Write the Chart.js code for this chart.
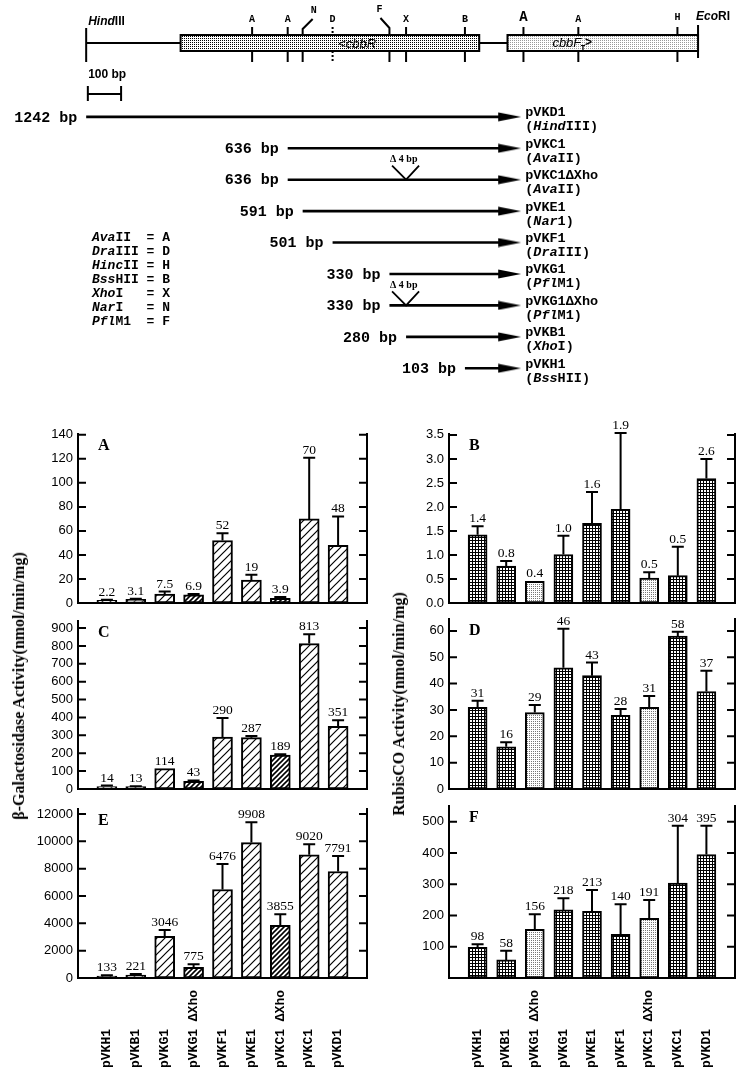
<!DOCTYPE html>
<html>
<head>
<meta charset="utf-8">
<script src="https://cdn.jsdelivr.net/npm/chart.js@4.4.0/dist/chart.umd.min.js"></script>
<style>
  body { margin: 0; background: #fff; }
  #page { position: relative; width: 749px; height: 1082px; overflow: hidden; background: #fff; }
  canvas { position: absolute; }
  .ytitle { position: absolute; font: bold 16px "Liberation Serif", "Times New Roman", serif; white-space: nowrap;
            transform: translate(-50%, -50%) rotate(-90deg); color: #000; }
</style>
</head>
<body>
<div id="page">
  <canvas id="map" width="749" height="400" style="left:0;top:0"></canvas>
  <canvas id="panelA"></canvas>
  <canvas id="panelC"></canvas>
  <canvas id="panelE"></canvas>
  <canvas id="panelB"></canvas>
  <canvas id="panelD"></canvas>
  <canvas id="panelF"></canvas>
  <div class="ytitle" style="left:19px;top:686px">β-Galactosidase Activity(nmol/min/mg)</div>
  <div class="ytitle" style="left:399px;top:704px">RubisCO Activity(nmol/min/mg)</div>
</div>
<script>
// --- promoter map (positions in bp counted from the HindIII site) ---
const promoterEnd = 1242;
const constructNames = ['pVKD1', 'pVKC1', 'pVKC1ΔXho', 'pVKE1', 'pVKF1', 'pVKG1', 'pVKG1ΔXho', 'pVKB1', 'pVKH1'];
const constructEnzymes = ['(_Hind_III)', '(_Ava_II)', '(_Ava_II)', '(_Nar_1)', '(_Dra_III)', '(_Pfl_M1)', '(_Pfl_M1)', '(_Xho_I)', '(_Bss_HII)'];
const constructLengths = [1242, 636, 636, 591, 501, 330, 330, 280, 103];
const constructDeletion = [false, false, true, false, false, false, true, false, false];
const siteLetters = ['A', 'A', 'N', 'D', 'F', 'X', 'B', 'A', 'A', 'H'];
const sitePositions = [499, 606, 651, 741, 912, 962, 1139, 1315, 1480, 1778];
const xhoSite = 962;
const cbbRBox = [284, 1182];
const cbbFBox = [1267, 1840];
const ecoRIPos = 1840;
const enzymeKey = ['_Ava_II  = A', '_Dra_III = D', '_Hinc_II = H', '_Bss_HII = B', '_Xho_I   = X', '_Nar_I   = N', '_Pfl_M1  = F'];

// --- bar panels ---
const leftCats = ['pVKH1', 'pVKB1', 'pVKG1', 'pVKG1 ΔXho', 'pVKF1', 'pVKE1', 'pVKC1 ΔXho', 'pVKC1', 'pVKD1'];
const rightCats = ['pVKH1', 'pVKB1', 'pVKG1 ΔXho', 'pVKG1', 'pVKE1', 'pVKF1', 'pVKC1 ΔXho', 'pVKC1', 'pVKD1'];

const aValues = [2.2, 3.1, 7.5, 6.9, 52, 19, 3.9, 70, 48];
const aErrTop = [2.7, 3.6, 9.5, 7.4, 58, 23.5, 5, 121, 72];
const aTicks = [0, 20, 40, 60, 80, 100, 120, 140];
const cValues = [14, 13, 114, 43, 290, 287, 189, 813, 351];
const cErrTop = [19, 16, 114, 48, 397, 296, 195, 866, 385];
const cTicks = [0, 100, 200, 300, 400, 500, 600, 700, 800, 900];
const eValues = [133, 221, 3046, 775, 6476, 9908, 3855, 9020, 7791];
const eErrTop = [200, 290, 3510, 1000, 8340, 11390, 4660, 9780, 8930];
const eTicks = [0, 2000, 4000, 6000, 8000, 10000, 12000];

const bValues = [1.42, 0.77, 0.45, 1.01, 1.66, 1.95, 0.52, 0.57, 2.59];
const bLabels = ['1.4', '0.8', '0.4', '1.0', '1.6', '1.9', '0.5', '0.5', '2.6'];
const bErrTop = [1.6, 0.875, 0.45, 1.4, 2.31, 3.54, 0.64, 1.17, 3.0];
const bTicks = [0, 0.5, 1.0, 1.5, 2.0, 2.5, 3.0, 3.5];
const dValues = [31, 16, 29, 46, 43, 28, 31, 58, 37];
const dErrTop = [33.5, 17.7, 31.9, 60.8, 48, 30.4, 35.3, 59.7, 44.9];
const dTicks = [0, 10, 20, 30, 40, 50, 60];
const fValues = [98, 58, 156, 218, 213, 140, 191, 304, 395];
const fErrTop = [108, 87, 204, 255, 282, 236, 250, 487, 487];
const fTicks = [100, 200, 300, 400, 500];

// fill patterns
function makePattern(size, draw) {
    const c = document.createElement('canvas');
    c.width = size; c.height = size;
    const g = c.getContext('2d');
    g.fillStyle = '#fff';
    g.fillRect(0, 0, size, size);
    draw(g, size);
    return document.createElement('canvas').getContext('2d').createPattern(c, 'repeat');
}
function hatch(size, lw) {
    return makePattern(size, (g, s) => {
        g.strokeStyle = '#000'; g.lineWidth = lw;
        g.beginPath();
        g.moveTo(0, s); g.lineTo(s, 0);
        g.moveTo(-2, 2); g.lineTo(2, -2);
        g.moveTo(s - 2, s + 2); g.lineTo(s + 2, s - 2);
        g.stroke();
    });
}
const hatchPattern = hatch(8, 1.2);
const denseHatch = hatch(5, 1.6);
const darkGrid = makePattern(3, (g) => { g.fillStyle = '#000'; g.fillRect(0, 0, 3, 1); g.fillRect(0, 0, 1, 3); });
const lightDots = makePattern(2, (g) => { g.fillStyle = '#777'; g.fillRect(0, 0, 1, 1); });
const cbbRFill = makePattern(2, (g) => { g.fillStyle = '#000'; g.fillRect(0, 0, 1, 1); });
const cbbFFill = makePattern(2, (g) => { g.fillStyle = '#999'; g.fillRect(0, 0, 1, 1); });

// text with _italic_ parts
function drawStyled(ctx, text, x, y, size, family, align) {
    const parts = text.split('_');
    const fonts = parts.map((p, k) => (k % 2 ? 'italic ' : '') + 'bold ' + size + 'px ' + family);
    const widths = parts.map((p, k) => { ctx.font = fonts[k]; return ctx.measureText(p).width; });
    const total = widths.reduce((s, w) => s + w, 0);
    let cx = align === 'right' ? x - total : align === 'center' ? x - total / 2 : x;
    ctx.textAlign = 'left';
    parts.forEach((p, k) => { ctx.font = fonts[k]; ctx.fillText(p, cx, y); cx += widths[k]; });
}

const mono = '"Liberation Mono", "Courier New", monospace';
const sans = '"Liberation Sans", Arial, sans-serif';
const serif = '"Liberation Serif", "Times New Roman", serif';

// arrowhead used as the point style at the end of each construct
const arrowHead = document.createElement('canvas');
arrowHead.width = 44; arrowHead.height = 10;
(function () {
    const g = arrowHead.getContext('2d');
    g.fillStyle = '#000';
    g.beginPath(); g.moveTo(21, 0.5); g.lineTo(44, 5); g.lineTo(21, 9.5); g.closePath(); g.fill();
})();

const mapDecor = {
    id: 'mapDecor',
    afterDatasetsDraw(chart) {
        const {ctx} = chart;
        const xs = v => chart.scales.x.getPixelForValue(v);
        const ys = v => chart.scales.y.getPixelForValue(v);
        ctx.save();
        ctx.fillStyle = '#000';
        ctx.strokeStyle = '#000';
        ctx.textBaseline = 'middle';

        // backbone line and boxes
        ctx.lineWidth = 2;
        ctx.beginPath();
        ctx.moveTo(xs(0), 43); ctx.lineTo(xs(cbbRBox[0]), 43);
        ctx.moveTo(xs(cbbRBox[1]), 43); ctx.lineTo(xs(cbbFBox[0]), 43);
        ctx.moveTo(xs(0), 28); ctx.lineTo(xs(0), 62);
        ctx.moveTo(xs(ecoRIPos), 25); ctx.lineTo(xs(ecoRIPos), 58);
        ctx.stroke();
        [[cbbRBox, cbbRFill], [cbbFBox, cbbFFill]].forEach(([b, fill]) => {
            ctx.fillStyle = fill;
            ctx.fillRect(xs(b[0]), 35, xs(b[1]) - xs(b[0]), 16);
            ctx.strokeRect(xs(b[0]), 35, xs(b[1]) - xs(b[0]), 16);
        });
        ctx.fillStyle = '#000';

        // restriction sites
        sitePositions.forEach((p, i) => {
            const x = xs(p);
            const L = siteLetters[i];
            ctx.lineWidth = 2;
            ctx.setLineDash(L === 'D' ? [2, 2] : []);
            ctx.beginPath();
            if (L === 'N') {
                ctx.moveTo(x, 35); ctx.lineTo(x, 29); ctx.lineTo(x + 10, 19);
            } else if (L === 'F') {
                ctx.moveTo(x, 35); ctx.lineTo(x, 28); ctx.lineTo(x - 9, 18);
            } else {
                ctx.moveTo(x, 27); ctx.lineTo(x, 35);
            }
            ctx.moveTo(x, 51); ctx.lineTo(x, 62);
            ctx.stroke();
            ctx.setLineDash([]);
            ctx.textAlign = 'center';
            let lx = x, ly = 19, size = 10;
            if (L === 'N') { lx = x + 11; ly = 10; }
            if (L === 'F') { lx = x - 10; ly = 9; }
            if (p === 1315) { size = 14; ly = 17; }
            if (L === 'H') ly = 17;
            ctx.font = 'bold ' + size + 'px ' + mono;
            ctx.fillText(L, lx, ly);
        });

        drawStyled(ctx, '_Hind_III', xs(0) + 2, 22, 12, sans, 'left');
        drawStyled(ctx, '_Eco_RI', xs(ecoRIPos) - 2, 17, 12, sans, 'left');
        ctx.font = 'italic 13px ' + sans;
        ctx.textAlign = 'center';
        ctx.fillText('<cbbR', xs(815), 44);
        ctx.textAlign = 'left';
        ctx.fillText('cbbF', xs(1402), 43);
        ctx.font = 'bold 9px ' + mono;
        ctx.fillText('I', xs(1486), 49);
        ctx.font = 'bold 12px ' + sans;
        ctx.fillText('>', xs(1500), 43);

        // 100 bp scale bar
        ctx.font = 'bold 12px ' + sans;
        ctx.fillText('100 bp', xs(0) + 2, 75);
        ctx.lineWidth = 2;
        ctx.beginPath();
        ctx.moveTo(xs(5), 94); ctx.lineTo(xs(105), 94);
        ctx.moveTo(xs(5), 86); ctx.lineTo(xs(5), 101);
        ctx.moveTo(xs(105), 86); ctx.lineTo(xs(105), 101);
        ctx.stroke();

        // construct labels
        constructLengths.forEach((len, i) => {
            const y = ys(i);
            drawStyled(ctx, len + ' bp', xs(promoterEnd - len) - 9, y + 1, 15, mono, 'right');
            const tx = xs(promoterEnd) + 26;
            drawStyled(ctx, constructNames[i], tx, y - 4, 13.5, mono, 'left');
            drawStyled(ctx, constructEnzymes[i], tx, y + 10, 13.5, mono, 'left');
            if (constructDeletion[i]) {
                const x = xs(xhoSite);
                ctx.lineWidth = 1.8;
                ctx.beginPath();
                ctx.moveTo(x - 14, y - 14); ctx.lineTo(x, y);
                ctx.lineTo(x + 13, y - 14);
                ctx.stroke();
                ctx.font = 'bold 10px ' + serif;
                ctx.textAlign = 'left';
                ctx.fillText('Δ 4 bp', x - 16, y - 20);
            }
        });

        // enzyme key
        enzymeKey.forEach((t, i) => drawStyled(ctx, t, 92, 238 + 14 * i, 13, mono, 'left'));
        ctx.restore();
    }
};

new Chart(document.getElementById('map'), {
    type: 'line',
    data: {
        datasets: constructLengths.map((len, i) => ({
            data: [{x: promoterEnd - len, y: i}, {x: promoterEnd, y: i}],
            borderColor: '#000',
            borderWidth: 2.6,
            pointRadius: c => c.dataIndex === 1 ? 1 : 0,
            pointStyle: c => c.dataIndex === 1 ? arrowHead : 'circle',
            pointBackgroundColor: '#000'
        }))
    },
    options: {
        responsive: false,
        animation: false,
        devicePixelRatio: 1,
        layout: {padding: 0},
        plugins: {legend: {display: false}, tooltip: {enabled: false}},
        scales: {
            x: {type: 'linear', display: false, min: -239.3, max: 1973.4},
            y: {type: 'linear', display: false, reverse: true, min: -3.508, max: 8.8}
        }
    },
    plugins: [mapDecor]
});

// --- bar panels ---
const panelDecor = {
    id: 'panelDecor',
    afterDatasetsDraw(chart, args, opts) {
        const {ctx, chartArea: a} = chart;
        const y = chart.scales.y;
        const meta = chart.getDatasetMeta(0);
        ctx.save();
        ctx.strokeStyle = '#000';
        ctx.fillStyle = '#000';
        ctx.lineWidth = 2;
        ctx.beginPath();
        ctx.moveTo(a.left, a.top); ctx.lineTo(a.left, a.bottom);
        ctx.lineTo(a.right, a.bottom); ctx.lineTo(a.right, a.top);
        y.ticks.forEach(t => {
            const py = y.getPixelForValue(t.value);
            ctx.moveTo(a.left, py); ctx.lineTo(a.left + 8, py);
            ctx.moveTo(a.right, py); ctx.lineTo(a.right - 8, py);
        });
        ctx.stroke();

        ctx.font = '13.5px ' + serif;
        ctx.textAlign = 'center';
        ctx.textBaseline = 'alphabetic';
        opts.errTop.forEach((e, i) => {
            const bar = meta.data[i + 1];
            const top = y.getPixelForValue(e);
            if (top < bar.y - 0.5) {
                ctx.beginPath();
                ctx.moveTo(bar.x, bar.y); ctx.lineTo(bar.x, top);
                ctx.moveTo(bar.x - 6, top); ctx.lineTo(bar.x + 6, top);
                ctx.stroke();
            }
            ctx.fillText(opts.labels[i], bar.x, Math.min(top, bar.y) - 4);
        });

        ctx.font = 'bold 16px ' + serif;
        ctx.textAlign = 'left';
        ctx.textBaseline = 'middle';
        ctx.fillText(opts.letter, a.left + 20, a.top + 13);
        ctx.restore();
    }
};

function makePanel(p) {
    const canvas = document.getElementById(p.id);
    const canvasLeft = p.axisLeft - 70;
    const canvasTop = p.top - 25;
    const xh = p.showLabels ? 100 : 8;
    canvas.width = p.axisRight + 8 - canvasLeft;
    canvas.height = p.bottom - canvasTop + xh;
    canvas.style.left = canvasLeft + 'px';
    canvas.style.top = canvasTop + 'px';

    const delta = p.cats.map(c => c.includes('ΔXho'));
    const fills = delta.map(d => p.side === 'left' ? (d ? denseHatch : hatchPattern) : (d ? lightDots : darkGrid));
    const noPad = s => { s.paddingLeft = 0; s.paddingRight = 0; s.paddingTop = 0; s.paddingBottom = 0; };

    new Chart(canvas, {
        type: 'bar',
        data: {
            labels: ['', ...p.cats.map(c => c.padEnd(10, ' ')), ''],
            datasets: [{
                data: [null, ...p.values, null],
                backgroundColor: [null, ...fills, null],
                borderColor: '#000',
                borderWidth: 2,
                borderSkipped: false,
                barThickness: p.side === 'left' ? 20 : 19
            }]
        },
        options: {
            responsive: false,
            animation: false,
            devicePixelRatio: 1,
            layout: {padding: {top: 25, right: 8, left: 0, bottom: 0}},
            plugins: {
                legend: {display: false},
                tooltip: {enabled: false},
                panelDecor: {errTop: p.errTop, labels: p.labels, letter: p.letter}
            },
            scales: {
                x: {
                    type: 'category',
                    offset: false,
                    grid: {display: false, drawTicks: false},
                    border: {display: false},
                    ticks: {
                        display: !!p.showLabels,
                        autoSkip: false,
                        minRotation: 90,
                        maxRotation: 90,
                        padding: 12,
                        color: '#000',
                        font: {family: mono, size: 13, weight: 'bold'}
                    },
                    afterFit: s => { s.height = xh; noPad(s); }
                },
                y: {
                    min: 0,
                    max: p.max,
                    grid: {display: false, drawTicks: false},
                    border: {display: false},
                    ticks: {
                        padding: 5,
                        color: '#000',
                        font: {family: sans, size: 13},
                        callback: v => p.decimals ? v.toFixed(p.decimals) : v
                    },
                    afterBuildTicks: s => { s.ticks = p.ticks.map(v => ({value: v})); },
                    afterFit: s => { s.width = 70; noPad(s); }
                }
            }
        },
        plugins: [panelDecor]
    });
}

const L = {side: 'left', axisLeft: 78, axisRight: 367, cats: leftCats};
const R = {side: 'right', axisLeft: 449, axisRight: 735, cats: rightCats};
[
    {...L, id: 'panelA', top: 433, bottom: 603, max: 141.5, ticks: aTicks, values: aValues, errTop: aErrTop, labels: aValues.map(String), letter: 'A'},
    {...L, id: 'panelC', top: 620, bottom: 789, max: 945, ticks: cTicks, values: cValues, errTop: cErrTop, labels: cValues.map(String), letter: 'C'},
    {...L, id: 'panelE', top: 808, bottom: 978, max: 12440, ticks: eTicks, values: eValues, errTop: eErrTop, labels: eValues.map(String), letter: 'E', showLabels: true},
    {...R, id: 'panelB', top: 433, bottom: 603, max: 3.54, ticks: bTicks, decimals: 1, values: bValues, errTop: bErrTop, labels: bLabels, letter: 'B'},
    {...R, id: 'panelD', top: 618, bottom: 789, max: 64.9, ticks: dTicks, values: dValues, errTop: dErrTop, labels: dValues.map(String), letter: 'D'},
    {...R, id: 'panelF', top: 805, bottom: 978, max: 553.6, ticks: fTicks, values: fValues, errTop: fErrTop, labels: fValues.map(String), letter: 'F', showLabels: true}
].forEach(makePanel);
</script>
</body>
</html>
